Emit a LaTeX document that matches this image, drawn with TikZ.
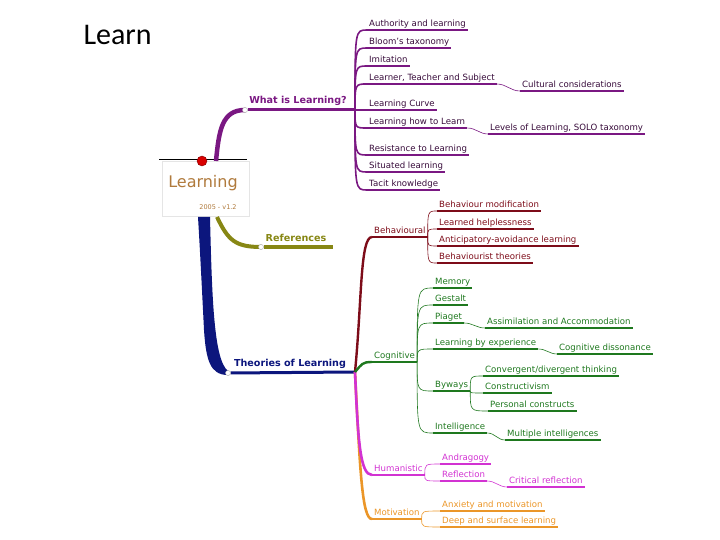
\documentclass[tikz,border=0pt]{standalone}
\usepackage{fontspec}
\setmainfont{DejaVu Sans}
\newfontfamily\titlefont{Carlito}
\usetikzlibrary{calc}
\definecolor{wlc}{RGB}{122,24,130}
\definecolor{refc}{RGB}{135,135,20}
\definecolor{tolc}{RGB}{12,22,125}
\definecolor{behc}{RGB}{125,12,25}
\definecolor{cogc}{RGB}{30,120,30}
\definecolor{humc}{RGB}{210,50,210}
\definecolor{motc}{RGB}{235,150,40}
\definecolor{rootc}{RGB}{176,122,60}
\begin{document}
\begin{tikzpicture}[x=1pt,y=-1pt,
  leaf/.style={anchor=south west,inner xsep=2pt,inner ysep=1.5pt,text height=6.5pt,text depth=1.8pt,
    font=\fontsize{8.6}{9}\selectfont,text=#1,
    append after command={(\tikzlastnode.south west) edge[draw=#1,line width=1.3pt] (\tikzlastnode.south east)}},
  sub/.style={leaf=#1,append after command={(\tikzlastnode.south west) edge[draw=#1,line width=2.4pt] (\tikzlastnode.south east)}},
  mainlbl/.style={font=\bfseries\fontsize{9.6}{10}\selectfont},
  fan/.style={to path={.. controls (\tikztostart |- \tikztotarget) .. (\tikztotarget)}},
  link/.style={line width=0.6pt},
  knot/.style={circle,fill=white,draw=gray!60,inner sep=0pt,minimum size=5pt},
  reddot/.style={circle,fill=red!85!black,draw=red!50!black,inner sep=0pt,minimum size=10pt},
  rootbox/.style={draw=gray!20,fill=white,minimum width=87pt,minimum height=55pt}]
\useasboundingbox (0,0) rectangle (720,540);
\node[font=\titlefont\fontsize{30}{30}\selectfont,anchor=west] (title) at (80,35) {Learn};

% centre
\node[rootbox] (root) at (206,189) {};
\draw[line width=0.6pt] ([shift={(-3,-2)}]root.north west) -- ([shift={(-3,-2)}]root.north east);
\node[font=\fontsize{16}{16}\selectfont,text=rootc] (rootlbl) at (203,183) {Learning};
\node[font=\fontsize{6.5}{7}\selectfont,text=rootc] (ver) at (218,207) {2005 - v1.2};
\node[reddot] (pin) at (202,161) {};

% main branches
\coordinate (wlhub) at (355,110);
\coordinate (tolhub) at (355,372);
\node[knot] (wldot) at (245,110) {};
\node[knot] (refdot) at (261,247) {};
\node[knot] (toldot) at (228,373) {};
\draw[wlc,line width=4.5pt] (216,161) .. controls (219,130) and (222,110) .. (wldot.center);
\draw[wlc,line width=3pt] (wldot) -- (wlhub);
\draw[refc,line width=4pt] (217,217) .. controls (228,240) and (235,247) .. (refdot.center);
\draw[refc,line width=4pt] (refdot) -- (333,247);
\fill[tolc] (198,217) -- (210,217) .. controls (212,300) and (214,360) .. (228,371) -- (228,375)
  .. controls (210,375) and (206,360) .. (204,330) .. controls (202,290) and (200,250) .. (198,217) -- cycle;
\draw[tolc,line width=3pt] (toldot) -- (tolhub);
\node[knot] at (toldot) {};
\node[knot] at (wldot) {};
\node[knot] at (refdot) {};
\node[mainlbl,text=wlc] (wl) at (298,101) {What is Learning?};
\node[mainlbl,text=refc] (ref) at (296,238) {References};
\node[mainlbl,text=tolc] (tol) at (290,364) {Theories of Learning};

% what is learning
\node[leaf=wlc,text=wlc!45!black] (auth) at (367,30) {Authority and learning};
\node[leaf=wlc,text=wlc!45!black] (bloom) at (367,48) {Bloom's taxonomy};
\node[leaf=wlc,text=wlc!45!black] (imit) at (367,66) {Imitation};
\node[leaf=wlc,text=wlc!45!black] (lts) at (367,84) {Learner, Teacher and Subject};
\node[leaf=wlc,text=wlc!45!black] (lcurve) at (367,110) {Learning Curve};
\node[leaf=wlc,text=wlc!45!black] (howto) at (367,128) {Learning how to Learn};
\node[leaf=wlc,text=wlc!45!black] (resist) at (367,155) {Resistance to Learning};
\node[leaf=wlc,text=wlc!45!black] (situ) at (367,172) {Situated learning};
\node[leaf=wlc,text=wlc!45!black] (tacit) at (367,190) {Tacit knowledge};
\node[leaf=wlc,text=wlc!45!black] (cult) at (520,91) {Cultural considerations};
\node[leaf=wlc,text=wlc!45!black] (solo) at (488,134) {Levels of Learning, SOLO taxonomy};
\foreach \n in {auth,bloom,imit,lts,lcurve,howto,resist,situ,tacit}
  \draw[wlc,line width=1.6pt] (wlhub) to[fan] (\n.south west);
\draw[wlc,link] (lts.south east) to[out=0,in=180] (cult.south west);
\draw[wlc,link] (howto.south east) to[out=0,in=180] (solo.south west);

% theories of learning
\node[sub=behc] (beh) at (372,237) {Behavioural};
\node[sub=cogc] (cog) at (372,362) {Cognitive};
\node[sub=humc] (hum) at (372,475) {Humanistic};
\node[sub=motc] (moti) at (372,519) {Motivation};
\draw[motc,line width=2.6pt] (tolhub) .. controls (360,470) and (362,519) .. (moti.south west);
\draw[humc,line width=2.6pt] (tolhub) .. controls (358,440) and (360,475) .. (hum.south west);
\draw[behc,line width=2.4pt] (tolhub) .. controls (362,300) and (360,237) .. (beh.south west);
\draw[cogc,line width=2.4pt] (tolhub) .. controls (362,364) and (362,362) .. (cog.south west);

\node[leaf=behc] (bmod) at (437,211) {Behaviour modification};
\node[leaf=behc] (help) at (437,229) {Learned helplessness};
\node[leaf=behc] (antic) at (437,246) {Anticipatory-avoidance learning};
\node[leaf=behc] (btheo) at (437,263) {Behaviourist theories};
\foreach \n in {bmod,help,antic,btheo}
  \draw[behc,link] (beh.south east) to[fan] (\n.south west);

\node[leaf=cogc] (mem) at (433,288) {Memory};
\node[leaf=cogc] (gest) at (433,305) {Gestalt};
\node[leaf=cogc] (piag) at (433,323) {Piaget};
\node[leaf=cogc] (lbe) at (433,349) {Learning by experience};
\node[leaf=cogc] (byw) at (433,391) {Byways};
\node[leaf=cogc] (intel) at (433,433) {Intelligence};
\foreach \n in {mem,gest,piag,lbe,byw,intel}
  \draw[cogc,link] (cog.south east) to[fan] (\n.south west);
\node[leaf=cogc] (assim) at (485,328) {Assimilation and Accommodation};
\node[leaf=cogc] (diss) at (557,354) {Cognitive dissonance};
\node[leaf=cogc] (conv) at (483,376) {Convergent/divergent thinking};
\node[leaf=cogc] (constr) at (483,393) {Constructivism};
\node[leaf=cogc] (perc) at (488,411) {Personal constructs};
\node[leaf=cogc] (multi) at (505,440) {Multiple intelligences};
\draw[cogc,link] (piag.south east) to[out=0,in=180] (assim.south west);
\draw[cogc,link] (lbe.south east) to[out=0,in=180] (diss.south west);
\draw[cogc,link] (intel.south east) to[out=0,in=180] (multi.south west);
\foreach \n in {conv,constr,perc}
  \draw[cogc,link] (byw.south east) to[fan] (\n.south west);

\node[leaf=humc] (andr) at (440,464) {Andragogy};
\node[leaf=humc] (refl) at (440,481) {Reflection};
\node[leaf=humc] (crit) at (507,487) {Critical reflection};
\draw[humc,link] (hum.south east) to[fan] (andr.south west);
\draw[humc,link] (hum.south east) to[fan] (refl.south west);
\draw[humc,link] (refl.south east) to[out=0,in=180] (crit.south west);

\node[leaf=motc] (anx) at (440,511) {Anxiety and motivation};
\node[leaf=motc] (deep) at (440,527) {Deep and surface learning};
\draw[motc,link] (moti.south east) to[fan] (anx.south west);
\draw[motc,link] (moti.south east) to[fan] (deep.south west);
\end{tikzpicture}
\end{document}
